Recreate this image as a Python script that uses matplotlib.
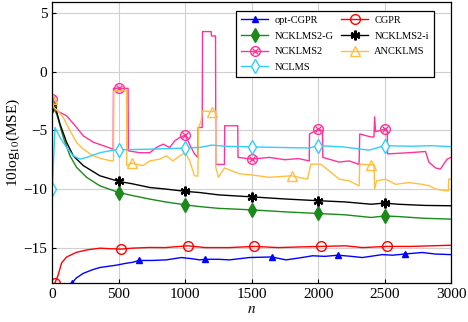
import matplotlib
matplotlib.use('Agg')
import matplotlib.pyplot as plt
from matplotlib.legend_handler import HandlerTuple

# values
n_opt = [150, 180, 233, 300, 358, 420, 483, 550, 608, 650, 750, 858, 970, 1050, 1108, 1150,
         1250, 1333, 1483, 1650, 1758, 1850, 1958, 2050, 2150, 2250, 2333, 2483, 2560, 2650,
         2783, 2880, 3000]
mse_opt = [-18.0, -17.6, -17.2, -16.9, -16.7, -16.6, -16.5, -16.35, -16.25, -16.1, -16.1, -16.05,
           -15.85, -15.95, -16.05, -16.0, -16.0, -16.05, -15.85, -15.8, -16.05, -15.9, -15.7,
           -15.75, -15.65, -15.75, -15.85, -15.6, -15.65, -15.55, -15.42, -15.55, -15.6]
mk_opt = [150, 650, 1150, 1650, 2150, 2650]

n_cgpr = [20, 35, 45, 70, 108, 183, 260, 358, 440, 520, 600, 733, 850, 1020, 1150, 1333, 1520,
          1700, 1850, 2020, 2208, 2333, 2520, 2700, 2850, 3000]
mse_cgpr = [-18.0, -17.6, -17.3, -16.3, -15.8, -15.4, -15.2, -15.05, -15.1, -15.13, -15.05, -14.99,
            -15.0, -14.85, -15.0, -15.0, -14.9, -15.0, -14.95, -14.9, -14.85, -15.0, -14.9, -14.9,
            -14.85, -14.8]
mk_cgpr = [20, 520, 1020, 1520, 2020, 2520]

n_g = [0, 33, 83, 133, 183, 258, 358, 500, 600, 733, 850, 1000, 1108, 1250, 1500, 1750, 2000,
       2200, 2400, 2500, 2600, 2800, 3000]
mse_g = [-2.9, -3.6, -5.6, -7.17, -8.16, -9.0, -9.73, -10.3, -10.55, -10.86, -11.1, -11.35, -11.5,
         -11.65, -11.78, -11.95, -12.09, -12.2, -12.43, -12.3, -12.35, -12.5, -12.57]

n_i = [0, 30, 58, 108, 158, 233, 358, 500, 600, 733, 850, 1000, 1108, 1250, 1500, 1750, 2000,
       2200, 2400, 2500, 2600, 2800, 3000]
mse_i = [-2.9, -3.3, -4.46, -6.03, -7.17, -8.0, -8.87, -9.35, -9.55, -9.87, -10.0, -10.2, -10.3,
         -10.5, -10.67, -10.85, -11.0, -11.1, -11.3, -11.2, -11.3, -11.4, -11.43]

n_k2 = [0, 10, 30, 108, 183, 233, 308, 383, 458, 460, 500, 570, 572, 658, 733, 783, 833, 883,
        920, 958, 1000, 1033, 1070, 1095, 1097, 1128, 1130, 1195, 1197, 1228, 1230, 1295, 1297,
        1395, 1397, 1500, 1633, 1750, 1850, 1933, 1935, 2000, 2033, 2035, 2158, 2233, 2308,
        2313, 2395, 2420, 2425, 2432, 2500, 2520, 2522, 2683, 2808, 2833, 2883, 2920, 2970, 3000]
mse_k2 = [-2.3, -3.1, -3.3, -3.75, -4.75, -5.46, -6.0, -6.3, -6.6, -1.4, -1.4, -1.4, -6.74, -6.9,
          -6.9, -6.46, -6.17, -6.46, -5.9, -5.6, -5.4, -6.2, -7.0, -7.3, -4.75, -4.75, 3.44, 3.44,
          3.07, 3.07, -7.9, -7.9, -4.6, -4.6, -7.3, -7.45, -7.3, -7.5, -7.4, -7.6, -5.3, -4.9,
          -5.0, -7.3, -7.7, -7.6, -7.9, -5.3, -5.55, -5.55, -3.84, -5.1, -4.9, -5.0, -7.0, -6.9,
          -6.8, -7.7, -8.2, -8.3, -7.45, -7.3]
mk_k2 = [0, 500, 1000, 1500, 2000, 2500]

n_a = [0, 10, 40, 83, 133, 183, 233, 308, 383, 445, 460, 462, 558, 560, 600, 633, 683, 733, 808,
       858, 908, 958, 1000, 1033, 1070, 1095, 1100, 1120, 1128, 1200, 1228, 1230, 1250, 1295,
       1408, 1500, 1633, 1800, 1920, 1945, 2020, 2083, 2158, 2233, 2308, 2313, 2400, 2420, 2425,
       2440, 2508, 2583, 2683, 2783, 2840, 2883, 2958, 2980, 2982, 3000]
mse_a = [-2.3, -3.0, -3.3, -3.9, -5.03, -6.03, -6.6, -7.17, -7.45, -7.6, -7.6, -1.62, -1.62, -8.0,
         -7.8, -7.88, -8.0, -7.6, -7.45, -7.17, -7.6, -7.17, -6.9, -7.6, -8.87, -8.9, -4.75, -4.2,
         -3.33, -3.4, -3.33, -8.16, -9.0, -8.2, -8.7, -8.8, -9.0, -8.87, -9.16, -7.88, -7.88,
         -8.45, -9.16, -9.3, -9.73, -7.88, -7.94, -7.9, -10.0, -9.3, -9.16, -9.6, -9.45, -9.6,
         -9.73, -10.0, -10.15, -10.15, -9.16, -9.16]
mk_a = [0, 600, 1200, 1800, 2400]

n_nc = [0, 20, 58, 108, 158, 208, 258, 358, 458, 500, 733, 1000, 1108, 1200, 1300, 1500, 1700,
        1933, 2000, 2183, 2383, 2500, 2700, 2850, 3000]
mse_nc = [-10.0, -4.75, -5.6, -6.46, -7.17, -7.45, -7.3, -6.9, -6.68, -6.65, -6.6, -6.5, -6.45,
          -6.25, -6.35, -6.4, -6.45, -6.5, -6.3, -6.4, -6.68, -6.3, -6.35, -6.3, -6.38]
mk_nc = [0, 500, 1000, 1500, 2000, 2500]
mk_5 = [0, 500, 1000, 1500, 2000, 2500]


def marks(n, m):
    return [n.index(x) for x in m]


plt.rcParams['font.family'] = ['Liberation Serif', 'DejaVu Serif']
plt.rcParams['mathtext.fontset'] = 'stix'

fig = plt.figure(figsize=(4.68, 3.22), dpi=100)
ax = fig.add_axes([0.1118, 0.122, 0.852, 0.873])

lw = 1.0
h_opt, = ax.plot(n_opt, mse_opt, color='#0000FF', lw=lw, marker='^', ms=5,
                 markevery=marks(n_opt, mk_opt), label='opt-CGPR')
h_cgpr, = ax.plot(n_cgpr, mse_cgpr, color='#FF0000', lw=lw, marker='o', ms=7, mfc='none', mew=1.0,
                  markevery=marks(n_cgpr, mk_cgpr), label='CGPR')
h_g, = ax.plot(n_g, mse_g, color='#1A8A1A', lw=lw, marker='d', ms=7.5,
               markevery=marks(n_g, mk_5), label='NCKLMS2-G')
h_i, = ax.plot(n_i, mse_i, color='black', lw=lw, marker=(6, 2, 0), ms=7, mew=1.6,
               markevery=marks(n_i, mk_5), label='NCKLMS2-i')
h_k2, = ax.plot(n_k2, mse_k2, color='#FF3399', lw=lw, marker='o', ms=7, mfc='none', mew=1.0,
                markevery=marks(n_k2, mk_k2), label='NCKLMS2')
h_k2x, = ax.plot([n_k2[i] for i in marks(n_k2, mk_k2)], [mse_k2[i] for i in marks(n_k2, mk_k2)],
                 ls='none', color='#FF3399', marker='x', ms=4.5, mew=1.0)
h_a, = ax.plot(n_a, mse_a, color='#FFBF40', lw=lw, marker='^', ms=7, mfc='none', mew=1.0,
               markevery=marks(n_a, mk_a), label='ANCKLMS')
h_nc, = ax.plot(n_nc, mse_nc, color='#33CCFF', lw=lw, marker='d', ms=7.5, mfc='white', mew=1.0,
                markevery=marks(n_nc, mk_nc), label='NCLMS')

ax.set_xlim(0, 3000)
ax.set_ylim(-18, 6)
ax.set_xticks(range(0, 3001, 500))
ax.set_yticks([-15, -10, -5, 0, 5])
ax.grid(True, color='#d0d0d0', lw=0.8)
ax.set_axisbelow(True)
ax.tick_params(direction='in', labelsize=11, length=3)
for s in ax.spines.values():
    s.set_linewidth(0.9)
ax.set_xlabel('$n$', fontsize=11, labelpad=2)
ax.set_ylabel('10log$_{10}$(MSE)', fontsize=11, labelpad=1)

handles = [h_opt, h_g, (h_k2, h_k2x), h_nc, h_cgpr, h_i, h_a]
labels = ['opt-CGPR', 'NCKLMS2-G', 'NCKLMS2', 'NCLMS', 'CGPR', 'NCKLMS2-i', 'ANCKLMS']
leg = ax.legend(handles, labels, ncol=2, loc='upper left', bbox_to_anchor=(0.461, 0.968),
                borderaxespad=0, fontsize=7.5, fancybox=False, edgecolor='black', framealpha=1,
                handlelength=2.6, labelspacing=0.6, columnspacing=0.7, handletextpad=0.6,
                borderpad=0.5, handler_map={tuple: HandlerTuple(ndivide=1, pad=0)})
leg.get_frame().set_linewidth(0.9)
leg.set_zorder(10)

fig.savefig('out.png', dpi=100)
